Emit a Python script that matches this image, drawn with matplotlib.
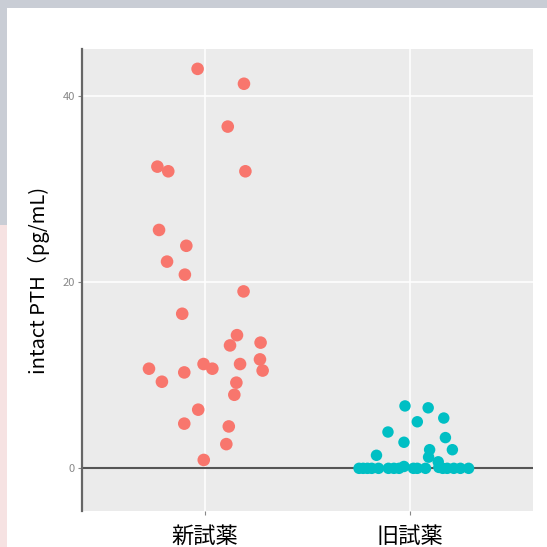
import matplotlib
matplotlib.use("Agg")
import numpy as np
import matplotlib.pyplot as plt
from matplotlib.patches import Rectangle

plt.rcParams['font.family'] = ['Noto Sans CJK JP', 'DejaVu Sans']

# data
groups = ['新試薬', '旧試薬']

new_vals = [42.9, 41.3, 36.7, 32.4, 31.9, 31.9, 25.6, 23.9, 22.2, 20.8,
            19.0, 16.6, 14.3, 13.2, 13.5, 11.7, 10.7, 10.3, 11.2, 10.7,
            11.2, 10.5, 9.3, 9.2, 7.9, 6.3, 4.8, 4.5, 2.6, 0.9]
new_jitter = [-0.035, 0.191, 0.112, -0.231, -0.178, 0.198, -0.223, -0.090, -0.184, -0.097,
              0.189, -0.110, 0.157, 0.123, 0.272, 0.269, -0.272, -0.100, -0.006, 0.037,
              0.172, 0.282, -0.209, 0.154, 0.144, -0.032, -0.100, 0.117, 0.105, -0.005]

old_vals = [6.7, 6.5, 5.0, 5.4, 3.9, 2.8, 3.3, 2.0, 2.0, 1.2, 1.4, 0.7,
            0.0, 0.0, 0.0, 0.0, 0.0, 0.0, 0.0, 0.0, 0.2, 0.0, 0.0, 0.0,
            0.1, 0.0, 0.0, 0.0, 0.0, 0.0]
old_jitter = [-0.024, 0.089, 0.036, 0.165, -0.107, -0.029, 0.173, 0.207, 0.096, 0.091, -0.163, 0.138,
              -0.248, -0.228, -0.207, -0.186, -0.153, -0.105, -0.078, -0.053, -0.029, 0.017, 0.036, 0.076,
              0.141, 0.160, 0.182, 0.214, 0.246, 0.286]

yticks = [0, 20, 40]

fig = plt.figure(figsize=(5.47, 5.47), dpi=100)
fig.patch.set_facecolor('white')

# screenshot border behind the white card
fig.patches.append(Rectangle((0, 1 - 8 / 547), 1, 8 / 547, transform=fig.transFigure,
                             facecolor='#c9cdd5', edgecolor='none', zorder=0))
fig.patches.append(Rectangle((0, 1 - 225 / 547), 7 / 547, 225 / 547, transform=fig.transFigure,
                             facecolor='#c9cdd5', edgecolor='none', zorder=0))
fig.patches.append(Rectangle((0, 0), 7 / 547, 1 - 225 / 547, transform=fig.transFigure,
                             facecolor='#f6e2e2', edgecolor='none', zorder=0))

ax = fig.add_axes([81.7 / 547, 1 - 510.7 / 547, (533 - 81.7) / 547, (510.7 - 49.3) / 547])
ax.set_facecolor('#EBEBEB')

x1 = np.ones(len(new_vals)) + np.array(new_jitter)
x2 = 2 * np.ones(len(old_vals)) + np.array(old_jitter)

ax.axhline(0, color='#555555', lw=1.5, zorder=2)
ax.scatter(x1, new_vals, s=82, color='#F8766D', edgecolors='none', zorder=3)
ax.scatter(x2, old_vals, s=68, color='#00BFC4', edgecolors='none', zorder=3)

ax.set_xlim(0.4, 2.6)
ax.set_ylim(-4.55, 45)
ax.set_xticks([1, 2])
ax.set_xticklabels(groups, fontsize=16, color='black')
ax.set_yticks(yticks)
ax.set_yticklabels([str(t) for t in yticks], fontsize=8, color='#888888')
ax.grid(True, color='white', lw=1.1)
ax.set_axisbelow(True)

for s in ['top', 'right', 'bottom']:
    ax.spines[s].set_visible(False)
ax.spines['left'].set_color('#666666')
ax.spines['left'].set_linewidth(1.6)
ax.tick_params(axis='y', length=3, color='#888888', pad=2)
ax.tick_params(axis='x', length=3, color='#888888', pad=7)

ax.set_ylabel('intact PTH（pg/mL)', fontsize=14.5, color='black', labelpad=9)

fig.savefig('out.png', dpi=100)
